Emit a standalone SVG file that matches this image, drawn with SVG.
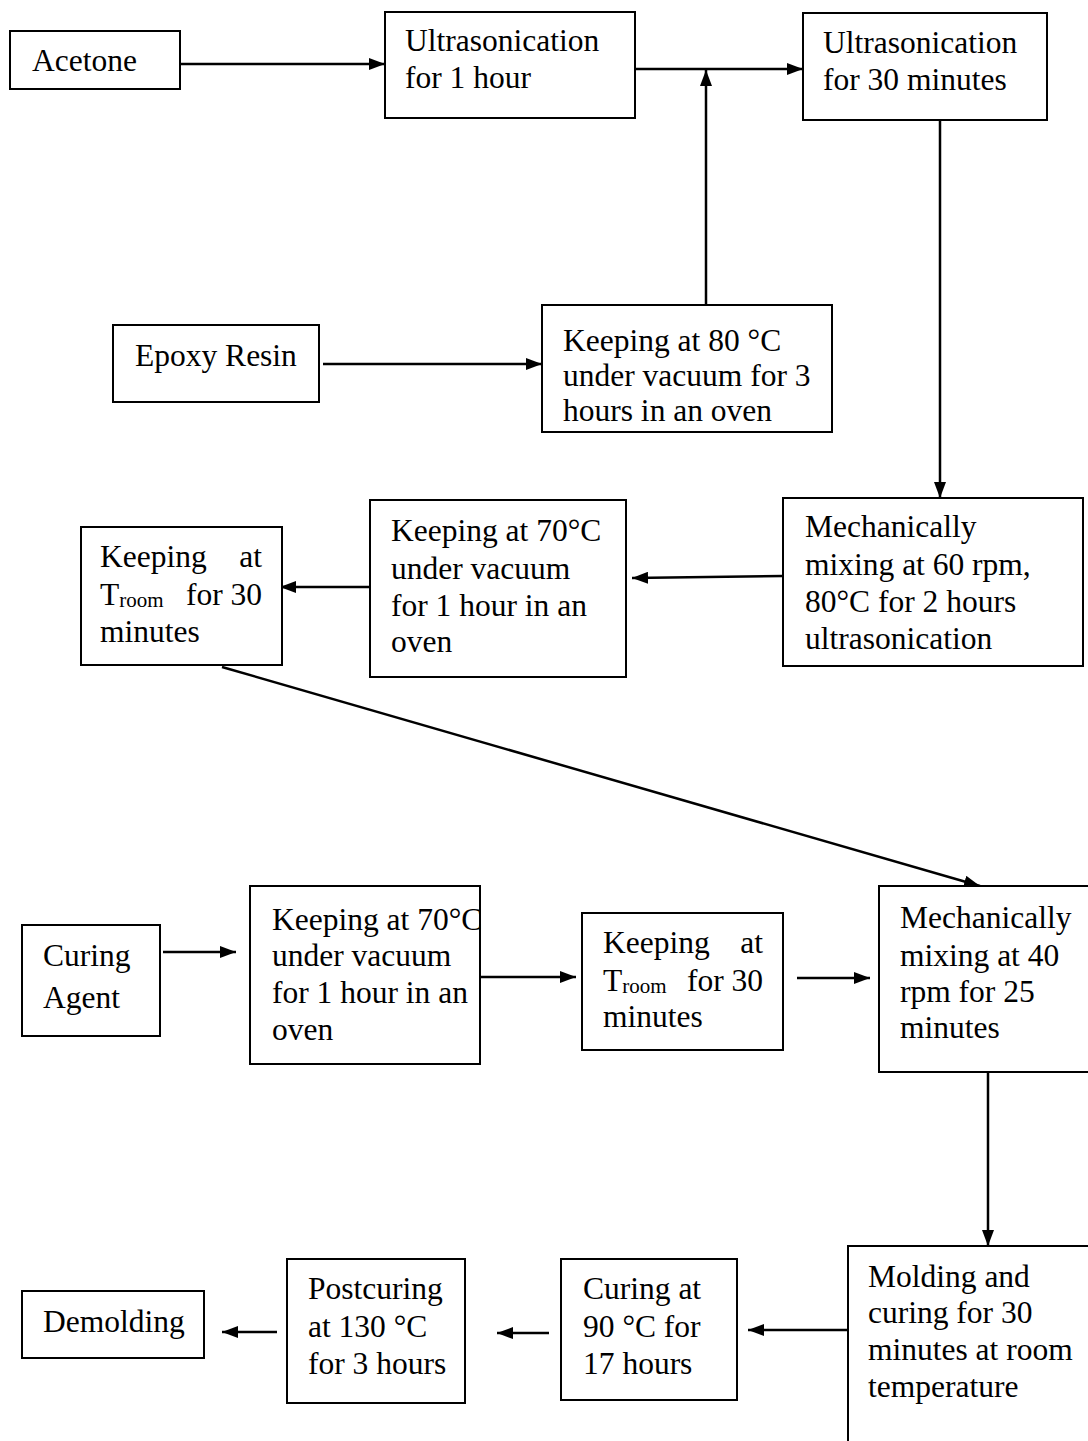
<svg xmlns="http://www.w3.org/2000/svg" width="1088" height="1441" viewBox="0 0 1088 1441">
<defs>
<style>
.box{fill:#fff;stroke:#000;stroke-width:2}
.t{font-family:'Liberation Serif','DejaVu Serif',serif;font-size:31.5px;fill:#000}
.sub{font-size:21px}
.c{stroke:#000;stroke-width:2.5;fill:none}
</style>
<marker id="a" viewBox="0 0 16 12" refX="16" refY="6" markerWidth="16" markerHeight="12" markerUnits="userSpaceOnUse" orient="auto">
<path d="M0,0 L16,6 L0,12 z" fill="#000"/>
</marker>
</defs>
<rect width="1088" height="1441" fill="#fff"/>

<g id="connectors">
<line class="c" x1="180" y1="64" x2="385" y2="64" marker-end="url(#a)"/>
<line class="c" x1="626" y1="69" x2="803" y2="69" marker-end="url(#a)"/>
<line class="c" x1="706" y1="305" x2="706" y2="70" marker-end="url(#a)"/>
<line class="c" x1="323" y1="364" x2="542" y2="364" marker-end="url(#a)"/>
<line class="c" x1="940" y1="121" x2="940" y2="498" marker-end="url(#a)"/>
<line class="c" x1="783" y1="576" x2="632" y2="578" marker-end="url(#a)"/>
<line class="c" x1="372" y1="587" x2="280" y2="587" marker-end="url(#a)"/>
<line class="c" x1="222" y1="667" x2="980" y2="886" marker-end="url(#a)"/>
<line class="c" x1="163" y1="952" x2="236" y2="952" marker-end="url(#a)"/>
<line class="c" x1="480" y1="977" x2="576" y2="977" marker-end="url(#a)"/>
<line class="c" x1="797" y1="978" x2="870" y2="978" marker-end="url(#a)"/>
<line class="c" x1="988" y1="1073" x2="988" y2="1246" marker-end="url(#a)"/>
<line class="c" x1="848" y1="1330" x2="748" y2="1330" marker-end="url(#a)"/>
<line class="c" x1="549" y1="1333" x2="497" y2="1333" marker-end="url(#a)"/>
<line class="c" x1="277" y1="1332" x2="222" y2="1332" marker-end="url(#a)"/>
</g>

<g id="acetone">
<rect class="box" x="10" y="31" width="170" height="58"/>
<text class="t" x="32" y="71">Acetone</text>
</g>
<g id="ultra1h">
<rect class="box" x="385" y="12" width="250" height="106"/>
<text class="t" x="405" y="51">Ultrasonication</text>
<text class="t" x="405" y="88">for 1 hour</text>
</g>
<g id="ultra30">
<rect class="box" x="803" y="13" width="244" height="107"/>
<text class="t" x="823" y="53">Ultrasonication</text>
<text class="t" x="823" y="90">for 30 minutes</text>
</g>
<g id="epoxy">
<rect class="box" x="113" y="325" width="206" height="77"/>
<text class="t" x="135" y="366">Epoxy Resin</text>
</g>
<g id="keep80">
<rect class="box" x="542" y="305" width="290" height="127"/>
<text class="t" x="563" y="351">Keeping at 80 °C</text>
<text class="t" x="563" y="386">under vacuum for 3</text>
<text class="t" x="563" y="421">hours in an oven</text>
</g>
<g id="mech60">
<rect class="box" x="783" y="498" width="300" height="168"/>
<text class="t" x="805" y="537">Mechanically</text>
<text class="t" x="805" y="575">mixing at 60 rpm,</text>
<text class="t" x="805" y="612">80°C for 2 hours</text>
<text class="t" x="805" y="649">ultrasonication</text>
</g>
<g id="keep70a">
<rect class="box" x="370" y="500" width="256" height="177"/>
<text class="t" x="391" y="541">Keeping at 70°C</text>
<text class="t" x="391" y="579">under vacuum</text>
<text class="t" x="391" y="616">for 1 hour in an</text>
<text class="t" x="391" y="652">oven</text>
</g>
<g id="troomA">
<rect class="box" x="81" y="527" width="201" height="138"/>
<text class="t" x="100" y="567">Keeping</text>
<text class="t" x="262" y="567" text-anchor="end">at</text>
<text class="t" x="100" y="605">T<tspan class="sub" dy="2">room</tspan></text>
<text class="t" x="262" y="605" text-anchor="end">for 30</text>
<text class="t" x="100" y="642">minutes</text>
</g>
<g id="curingAgent">
<rect class="box" x="22" y="925" width="138" height="111"/>
<text class="t" x="43" y="966">Curing</text>
<text class="t" x="43" y="1008">Agent</text>
</g>
<g id="keep70b">
<rect class="box" x="250" y="886" width="230" height="178"/>
<text class="t" x="272" y="930">Keeping at 70°C</text>
<text class="t" x="272" y="966">under vacuum</text>
<text class="t" x="272" y="1003">for 1 hour in an</text>
<text class="t" x="272" y="1040">oven</text>
</g>
<g id="troomB">
<rect class="box" x="582" y="913" width="201" height="137"/>
<text class="t" x="603" y="953">Keeping</text>
<text class="t" x="763" y="953" text-anchor="end">at</text>
<text class="t" x="603" y="991">T<tspan class="sub" dy="2">room</tspan></text>
<text class="t" x="763" y="991" text-anchor="end">for 30</text>
<text class="t" x="603" y="1027">minutes</text>
</g>
<g id="mech40">
<rect class="box" x="879" y="886" width="220" height="186"/>
<text class="t" x="900" y="928">Mechanically</text>
<text class="t" x="900" y="966">mixing at 40</text>
<text class="t" x="900" y="1002">rpm for 25</text>
<text class="t" x="900" y="1038">minutes</text>
</g>
<g id="molding">
<rect class="box" x="848" y="1246" width="260" height="220"/>
<text class="t" x="868" y="1287">Molding and</text>
<text class="t" x="868" y="1323">curing for 30</text>
<text class="t" x="868" y="1360">minutes at room</text>
<text class="t" x="868" y="1397">temperature</text>
</g>
<g id="curing90">
<rect class="box" x="561" y="1259" width="176" height="141"/>
<text class="t" x="583" y="1299">Curing at</text>
<text class="t" x="583" y="1337">90 °C for</text>
<text class="t" x="583" y="1374">17 hours</text>
</g>
<g id="postcuring">
<rect class="box" x="287" y="1259" width="178" height="144"/>
<text class="t" x="308" y="1299">Postcuring</text>
<text class="t" x="308" y="1337">at 130 °C</text>
<text class="t" x="308" y="1374">for 3 hours</text>
</g>
<g id="demolding">
<rect class="box" x="22" y="1291" width="182" height="67"/>
<text class="t" x="43" y="1332">Demolding</text>
</g>
</svg>
